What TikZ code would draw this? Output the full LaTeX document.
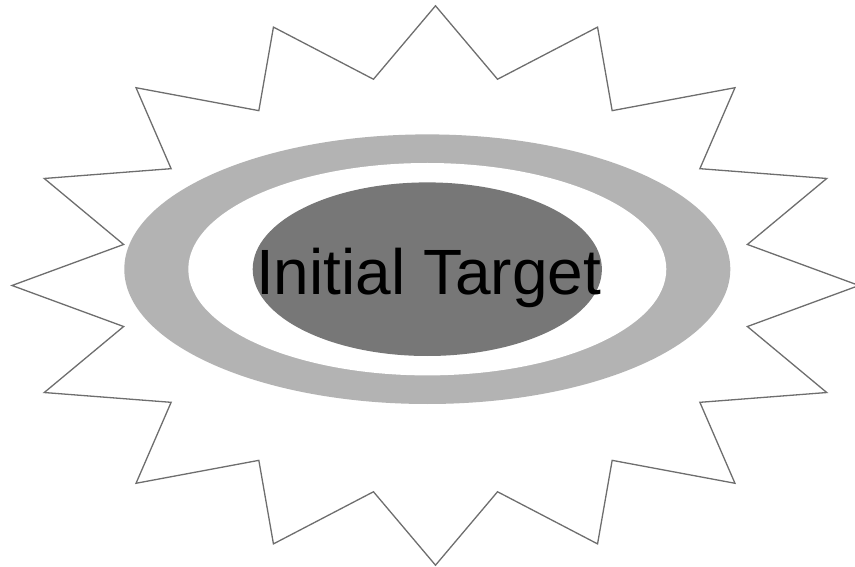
\documentclass[tikz,border=0pt]{standalone}
\usepackage{fontspec}
\setmainfont{Liberation Sans}
\definecolor{starline}{HTML}{6E6E6E}
\definecolor{ringgrey}{HTML}{B3B3B3}
\definecolor{coregrey}{HTML}{777777}
\tikzset{
  starstyle/.style={draw=starline, line width=1.3pt, fill=white, line join=miter},
  labelstyle/.style={font=\fontsize{64pt}{70pt}\selectfont, text=black, inner sep=0pt, anchor=base}
}
\begin{document}
\begin{tikzpicture}[x=1pt,y=1pt]
\useasboundingbox (0,0) rectangle (855,566);
\begin{scope}[shift={(435.5,280.5)}]
\draw[starstyle] (90:423.5 and 279.7)
  \foreach \k in {0,...,15}{ -- ({101.25+22.5*\k}:318 and 210.3) -- ({112.5+22.5*\k}:423.5 and 279.7)} -- cycle;
\end{scope}
\coordinate (ctr) at (427.3,296.8);
\fill[ringgrey] (ctr) ellipse [x radius=303, y radius=134.8];
\fill[white] (ctr) ellipse [x radius=239, y radius=106.2];
\fill[coregrey] (ctr) ellipse [x radius=174.6, y radius=86.8];
\node[labelstyle] (label) at (428.7,271) {Initial Target};
\end{tikzpicture}
\end{document}
